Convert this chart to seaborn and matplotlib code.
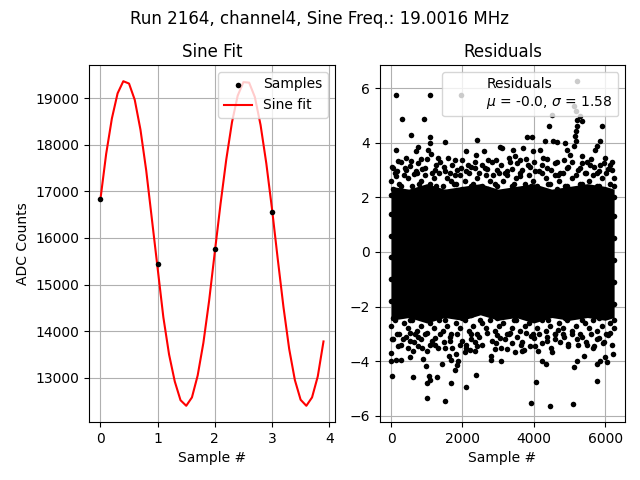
import matplotlib
matplotlib.use("Agg")
import numpy as np
import seaborn as sns
import matplotlib.pyplot as plt

# Sine fit panel
sample_x = [0, 1, 2, 3]
sample_y = [16830, 15450, 15760, 16560]

fit_x = [0.0, 0.1, 0.2, 0.3, 0.4, 0.5, 0.6, 0.7, 0.8, 0.9,
         1.0, 1.1, 1.2, 1.3, 1.4, 1.5, 1.6, 1.7, 1.8, 1.9,
         2.0, 2.1, 2.2, 2.3, 2.4, 2.5, 2.6, 2.7, 2.8, 2.9,
         3.0, 3.1, 3.2, 3.3, 3.4, 3.5, 3.6, 3.7, 3.8, 3.9]
fit_y = [16830, 17800, 18560, 19100, 19360, 19310, 18960, 18320, 17450, 16400,
         15350, 14300, 13500, 12920, 12520, 12400, 12580, 13050, 13750, 14650,
         15700, 16730, 17680, 18480, 19050, 19340, 19330, 19020, 18420, 17600,
         16620, 15550, 14520, 13620, 12950, 12530, 12400, 12580, 13030, 13780]

# Residuals panel: dense core (read as an envelope) + the scattered outer points
band_x = [0, 500, 1000, 1500, 2000, 2500, 3000, 3500, 4000, 4500, 5000, 5500, 6000, 6250]
band_hi = [2.4, 2.3, 2.5, 2.3, 2.4, 2.5, 2.3, 2.4, 2.5, 2.3, 2.4, 2.5, 2.4, 2.3]
band_lo = [-2.5, -2.4, -2.6, -2.4, -2.5, -2.3, -2.5, -2.4, -2.6, -2.4, -2.5, -2.4, -2.5, -2.4]

res_upper = [(131, 5.74), (1083, 5.74), (1969, 5.76), (317, 4.85), (924, 4.88), (551, 4.27),
             (1101, 4.22), (1503, 4.01), (2418, 4.09), (1083, 3.99), (149, 3.75), (756, 3.83),
             (1036, 3.75), (709, 3.70), (1129, 3.58), (1316, 3.45), (2110, 3.70), (2604, 3.69),
             (3043, 3.83), (2390, 3.54), (2716, 3.36), (2931, 3.36), (1596, 3.45), (1783, 3.36),
             (429, 3.45), (196, 3.33), (569, 3.33), (849, 3.39), (2156, 3.19), (1969, 3.07),
             (2343, 3.07), (56, 3.07), (383, 3.07), (943, 3.07), (1269, 3.19), (1503, 2.95),
             (709, 2.95), (2623, 3.07), (2856, 2.83), (149, 2.77), (1783, 2.83),
             (5200, 6.25), (4499, 5.03), (5124, 5.33), (5171, 5.15), (5291, 4.97), (5199, 4.84),
             (5339, 4.78), (4424, 4.60), (5899, 4.60), (5199, 4.60), (5180, 4.42), (5152, 4.23),
             (5180, 4.05), (5124, 3.87), (3799, 4.20), (3939, 4.20), (4545, 4.05), (4312, 4.05),
             (4639, 4.03), (4872, 3.99), (4919, 3.74), (5012, 3.56), (5852, 4.05), (5759, 3.87),
             (5712, 3.74), (3706, 3.81), (3426, 3.74), (3099, 3.81), (4172, 3.74), (3986, 3.68),
             (3473, 3.50), (3613, 3.38), (3332, 3.31), (4266, 3.43), (5339, 3.50), (5479, 3.31),
             (5572, 3.19), (5992, 3.43), (5852, 3.19), (6132, 3.19), (3845, 3.19), (4639, 3.31),
             (4919, 3.07), (4359, 3.07), (5292, 3.07), (4032, 2.95), (3239, 2.95), (5759, 2.89),
             (6179, 3.01), (4685, 2.83), (3613, 2.77)]

res_lower = [(28, -4.55), (616, -4.58), (1017, -5.34), (1503, -5.44), (1055, -4.55), (1017, -4.80),
             (1083, -4.67), (1297, -4.58), (1689, -4.80), (2110, -4.94), (2390, -4.50), (989, -4.18),
             (1437, -4.09), (1783, -4.33), (1849, -4.12), (1877, -4.00), (1615, -3.82), (1689, -3.94),
             (9, -4.00), (149, -3.96), (289, -3.96), (9, -3.70), (541, -3.84), (896, -3.90),
             (1017, -3.64), (1316, -3.51), (616, -3.64), (476, -3.51), (196, -3.45), (56, -3.20),
             (336, -3.20), (523, -3.27), (756, -3.45), (1083, -3.39), (1503, -3.51), (1830, -3.72),
             (2063, -3.67), (2203, -3.57), (2343, -3.64), (2418, -3.45), (2809, -3.82), (2809, -3.94),
             (2903, -3.55), (3090, -4.00), (2110, -3.39), (1923, -3.39), (2250, -3.20), (2949, -3.33),
             (3043, -3.14), (1643, -3.27), (849, -3.20), (1223, -3.14), (663, -3.02),
             (3911, -5.53), (4452, -5.63), (5105, -5.57), (4060, -4.75), (5777, -4.71), (5124, -4.21),
             (5199, -3.98), (5759, -4.09), (5852, -3.98), (5992, -3.84), (6039, -4.04), (6225, -3.72),
             (4219, -4.00), (4340, -4.10), (3239, -3.55), (3473, -3.67), (3659, -3.61), (3725, -3.57),
             (4032, -3.43), (4125, -3.61), (4517, -3.67), (4947, -3.37), (5413, -3.79), (5665, -3.51),
             (5945, -3.35), (5759, -3.20), (5479, -3.39), (3641, -3.39), (4359, -3.27), (4592, -3.20),
             (4825, -3.02), (5199, -3.20), (4685, -2.84), (3332, -2.96), (3911, -3.08), (6132, -2.96)]

res_mid = [(40, 3.1), (180, 2.95), (270, 3.3), (420, 3.0), (520, 3.15), (640, 2.85), (760, 3.25),
           (880, 3.05), (1000, 3.4), (1140, 2.9), (1240, 3.0), (1380, 3.3), (1480, 3.1), (1640, 2.9),
           (1720, 3.2), (1860, 3.0), (1990, 3.35), (2090, 2.95), (2230, 3.1), (2360, 3.3), (2470, 2.9),
           (2560, 3.2), (2700, 3.05), (2820, 3.3), (2980, 3.0), (3080, 3.2), (3190, 2.9), (3300, 3.45),
           (3400, 3.05), (3540, 3.25), (3660, 3.0), (3770, 3.4), (3890, 3.1), (4010, 3.3), (4140, 2.95),
           (4240, 3.2), (4380, 3.4), (4480, 3.0), (4600, 3.25), (4720, 2.9), (4840, 3.35), (4970, 3.1),
           (5080, 3.3), (5230, 3.0), (5350, 3.25), (5450, 2.9), (5600, 3.4), (5700, 3.1), (5820, 2.95),
           (5960, 3.25), (6070, 3.05), (6200, 3.3),
           (40, -3.2), (180, -3.0), (270, -3.4), (420, -3.1), (520, -2.95), (640, -3.3), (760, -3.1),
           (880, -3.5), (1000, -2.95), (1140, -3.25), (1240, -3.4), (1380, -3.0), (1480, -3.3), (1640, -3.1),
           (1720, -3.5), (1860, -3.0), (1990, -3.25), (2090, -3.5), (2230, -3.0), (2360, -3.3), (2470, -3.1),
           (2560, -3.4), (2700, -2.95), (2820, -3.25), (2980, -3.05), (3080, -3.5), (3190, -3.2), (3300, -3.0),
           (3400, -3.35), (3540, -3.1), (3660, -3.3), (3770, -2.95), (3890, -3.45), (4010, -3.15), (4140, -3.0),
           (4240, -3.35), (4380, -3.1), (4480, -3.5), (4600, -3.0), (4720, -3.3), (4840, -3.1), (4970, -3.45),
           (5080, -3.0), (5230, -3.4), (5350, -3.1), (5450, -3.3), (5600, -3.0), (5700, -3.45), (5820, -3.15),
           (5960, -3.3), (6070, -3.05), (6200, -3.4)]

res_edge = [(0, 2.6), (110, 2.9), (230, 2.5), (350, 2.8), (470, 2.7), (600, 2.4), (720, 2.9), (840, 2.6),
            (960, 2.8), (1080, 2.5), (1200, 2.7), (1330, 2.9), (1450, 2.4), (1570, 2.7), (1690, 2.6),
            (1810, 2.5), (1940, 2.8), (2060, 2.6), (2180, 2.9), (2300, 2.5), (2420, 2.7), (2540, 2.4),
            (2660, 2.8), (2780, 2.6), (2900, 2.5), (3020, 2.9), (3140, 2.6), (3260, 2.8), (3380, 2.4),
            (3500, 2.7), (3620, 2.9), (3740, 2.5), (3860, 2.8), (3980, 2.6), (4100, 2.4), (4220, 2.9),
            (4340, 2.7), (4460, 2.5), (4580, 2.8), (4700, 2.6), (4820, 2.9), (4940, 2.4), (5060, 2.7),
            (5180, 2.8), (5300, 2.5), (5420, 2.9), (5540, 2.6), (5660, 2.8), (5780, 2.4), (5900, 2.7),
            (6020, 2.9), (6140, 2.5), (6250, 2.7),
            (60, 2.3), (290, 2.4), (530, 2.2), (780, 2.5), (1020, 2.3), (1260, 2.4), (1510, 2.2),
            (1750, 2.5), (2000, 2.3), (2240, 2.4), (2480, 2.2), (2720, 2.3), (2960, 2.4), (3200, 2.2),
            (3440, 2.5), (3680, 2.3), (3920, 2.4), (4160, 2.2), (4400, 2.5), (4640, 2.3), (4880, 2.4),
            (5120, 2.2), (5360, 2.5), (5600, 2.3), (5840, 2.4), (6080, 2.2), (6250, 2.4),
            (0, -2.7), (110, -2.5), (230, -3.0), (350, -2.6), (470, -2.8), (600, -2.5), (720, -2.9),
            (840, -2.7), (960, -3.0), (1080, -2.6), (1200, -2.8), (1330, -2.5), (1450, -2.9), (1570, -2.7),
            (1690, -3.0), (1810, -2.6), (1940, -2.8), (2060, -2.5), (2180, -2.9), (2300, -2.7), (2420, -3.0),
            (2540, -2.6), (2660, -2.8), (2780, -2.5), (2900, -2.9), (3020, -2.7), (3140, -2.6), (3260, -3.0),
            (3380, -2.8), (3500, -2.5), (3620, -2.9), (3740, -2.7), (3860, -2.6), (3980, -3.0), (4100, -2.8),
            (4220, -2.5), (4340, -2.9), (4460, -2.7), (4580, -3.0), (4700, -2.6), (4820, -2.8), (4940, -2.5),
            (5060, -2.9), (5180, -2.7), (5300, -3.0), (5420, -2.6), (5540, -2.8), (5660, -2.5), (5780, -2.9),
            (5900, -2.7), (6020, -3.0), (6140, -2.6), (6250, -2.8),
            (60, -2.4), (290, -2.3), (530, -2.5), (780, -2.2), (1020, -2.4), (1260, -2.3), (1510, -2.5),
            (1750, -2.2), (2000, -2.4), (2240, -2.3), (2480, -2.5), (2720, -2.2), (2960, -2.4), (3200, -2.3),
            (3440, -2.5), (3680, -2.2), (3920, -2.4), (4160, -2.3), (4400, -2.5), (4640, -2.2), (4880, -2.4),
            (5120, -2.3), (5360, -2.5), (5600, -2.2), (5840, -2.4), (6080, -2.3), (6250, -2.5),
            (0, -1.8), (0, -1.0), (0, -0.2), (0, 0.6), (0, 1.4), (0, 2.1),
            (6250, -1.9), (6250, -1.1), (6250, -0.3), (6250, 0.5), (6250, 1.3), (6250, 2.0)]

res_label = "Residuals\n$\\mu$ = -0.0, $\\sigma$ = 1.58"
title = "Run 2164, channel4, Sine Freq.: 19.0016 MHz"

res_pts = np.array(res_upper + res_lower + res_mid + res_edge)

fig, (ax1, ax2) = plt.subplots(1, 2, figsize=(6.4, 4.8), dpi=100)
fig.subplots_adjust(left=0.1395, right=0.977, top=0.8646, bottom=0.1208, wspace=0.1845)

# left: sine fit
sns.scatterplot(x=sample_x, y=sample_y, color="k", s=16, linewidth=0, label="Samples", ax=ax1, zorder=3)
sns.lineplot(x=fit_x, y=fit_y, color="red", label="Sine fit", ax=ax1)
ax1.set_title("Sine Fit")
ax1.set_xlabel("Sample #")
ax1.set_ylabel("ADC Counts")
ax1.grid(True)
ax1.legend(loc="upper right")

# right: residuals
ax2.fill_between(band_x, band_lo, band_hi, color="k", linewidth=0, zorder=2)
sns.scatterplot(x=res_pts[:, 0], y=res_pts[:, 1], color="k", s=16, linewidth=0, ax=ax2, zorder=2)
ax2.plot([], [], " ", label=res_label)
ax2.set_title("Residuals")
ax2.set_xlabel("Sample #")
ax2.set_ylabel("")
ax2.grid(True)
ax2.legend(loc="upper right")

fig.suptitle(title)
fig.savefig("out.png", dpi=100)
